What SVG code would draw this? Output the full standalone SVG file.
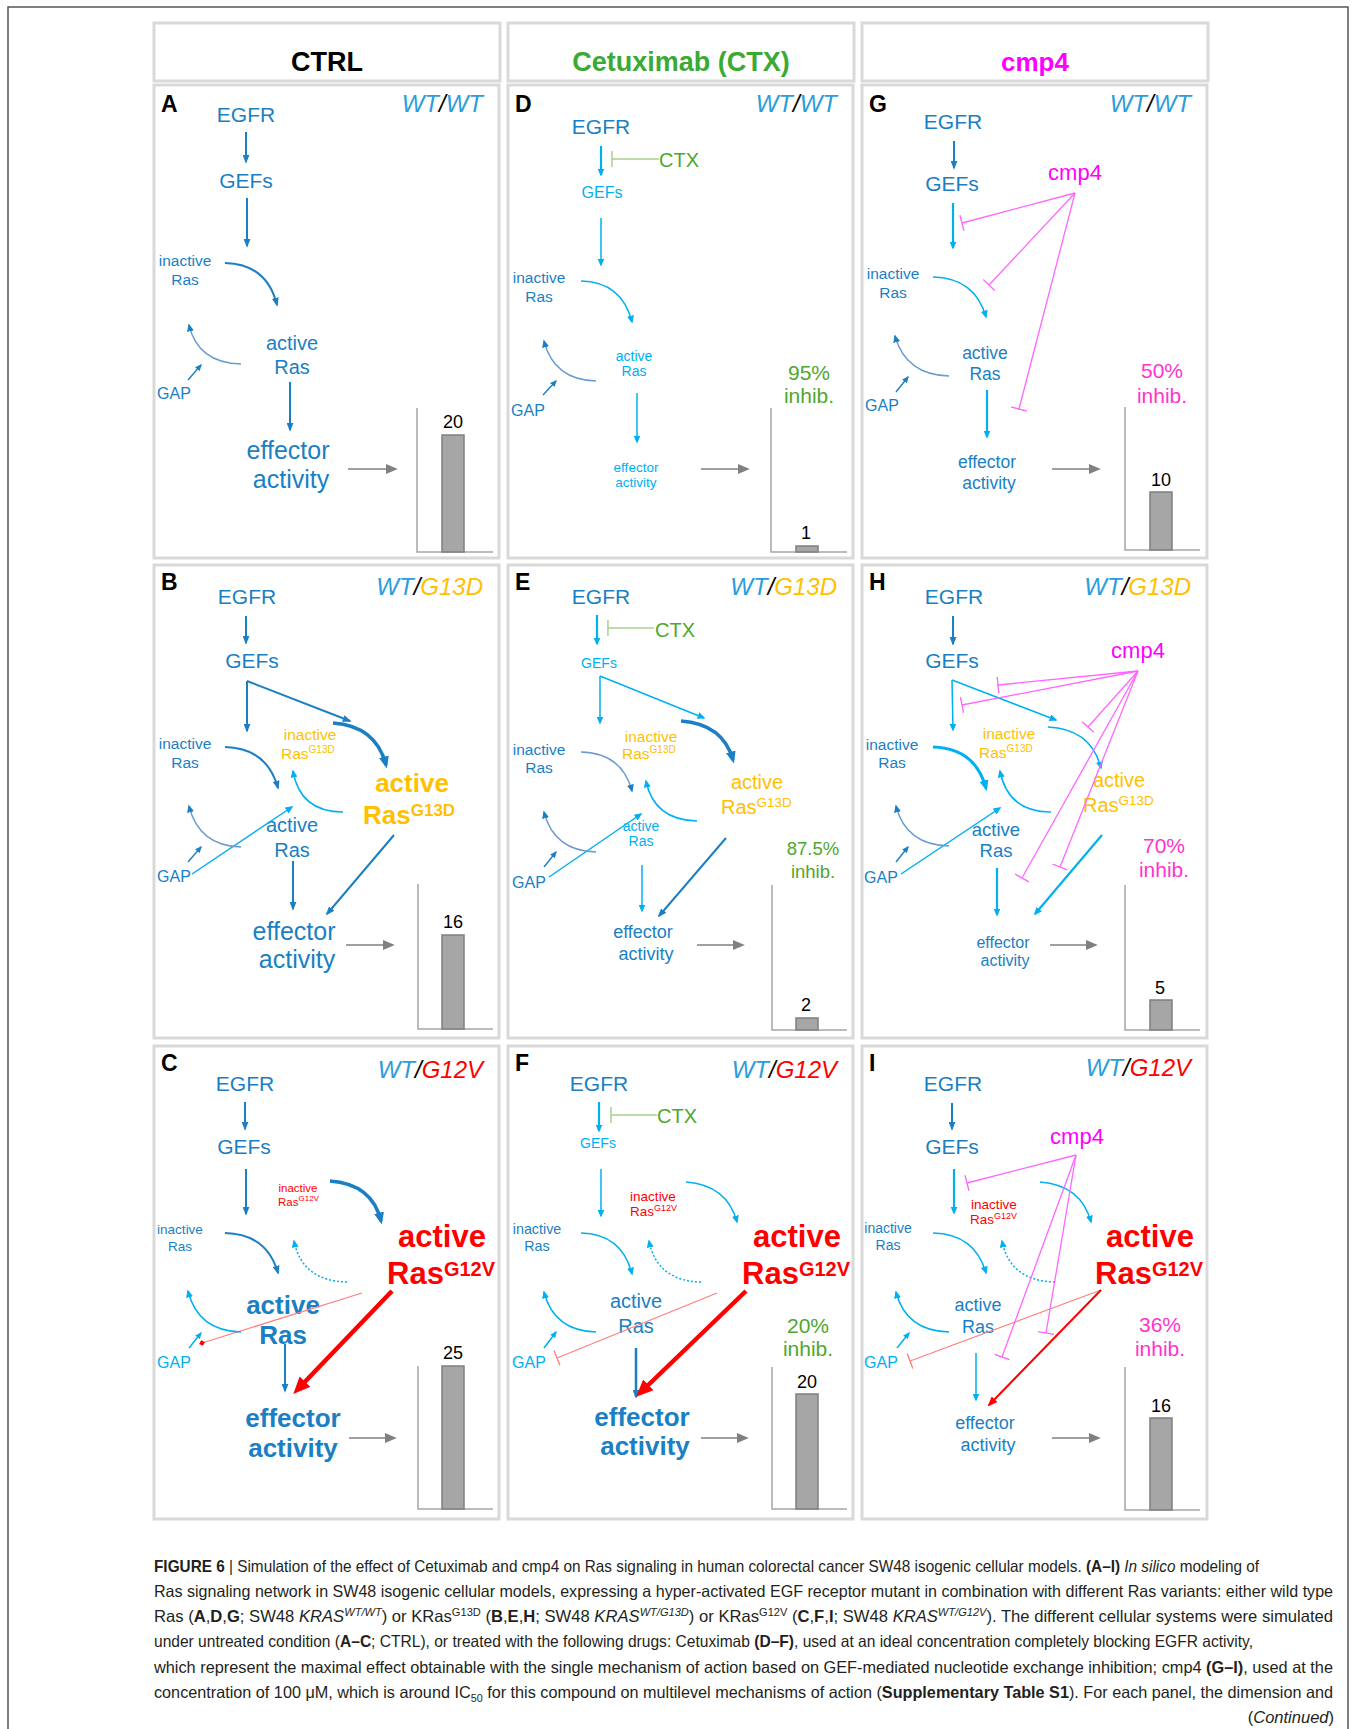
<svg xmlns="http://www.w3.org/2000/svg" width="1356" height="1729" viewBox="0 0 1356 1729">
<style>
text{font-family:"Liberation Sans",Arial,Helvetica,sans-serif}
.m{text-anchor:middle}.e{text-anchor:end}.b{font-weight:bold}.i{font-style:italic}
.db{fill:#1a7fc4}.lb{fill:#00b0f0}.go{fill:#ffc000}.rd{fill:#ff0000}.gn{fill:#4ea72e}.mg{fill:#ff00ff}.pk{fill:#ff33cc}.wt{fill:#2b9ddb}.k{fill:#000}
.pn{fill:#fff;stroke:#d9d9d9;stroke-width:3}
.pl{font-size:23px;font-weight:bold;fill:#000}
.wtl{font-size:24px;font-style:italic;text-anchor:end}
.ax{fill:none;stroke:#a6a6a6;stroke-width:1.5}
.bar{fill:#a6a6a6;stroke:#7f7f7f;stroke-width:1.5}
.num{font-size:18px;fill:#000;text-anchor:middle}
.cdb{fill:none;stroke:#1a7fc4;stroke-width:2;marker-end:url(#adb)}
.cdbT{fill:none;stroke:#1a7fc4;stroke-width:3.5;marker-end:url(#adbL)}
.clb{fill:none;stroke:#00b0f0;stroke-width:1.5;marker-end:url(#alb)}
.clbM{fill:none;stroke:#00b0f0;stroke-width:2.2;marker-end:url(#alb)}
.clbT{fill:none;stroke:#00b0f0;stroke-width:3;marker-end:url(#albL)}
.cds{fill:none;stroke:#00b0f0;stroke-width:1.5;stroke-dasharray:2 2;marker-end:url(#alb)}
.csb{fill:none;stroke:#6a9bd1;stroke-width:1.4;marker-end:url(#asb)}
.cgs{fill:none;stroke:#1a7fc4;stroke-width:1.4;marker-end:url(#asbd)}
.ga{stroke:#808080;stroke-width:1.6;marker-end:url(#agy)}
.cmg{fill:none;stroke:#ff66ff;stroke-width:1.3;marker-end:url(#tmg)}
.cgn{fill:none;stroke:#a9d18e;stroke-width:1.5;marker-end:url(#tgn)}
.cpr{fill:none;stroke:#ff8080;stroke-width:1.3}
.crT{fill:none;stroke:#ff0000;stroke-width:4.5;marker-end:url(#ardL)}
.crM{fill:none;stroke:#ff0000;stroke-width:2;marker-end:url(#ard)}
.cap{font-size:16.5px;fill:#231f20}
</style>
<defs>
<marker id="adb" viewBox="0 0 10 10" refX="8" refY="5" markerWidth="9" markerHeight="7" markerUnits="userSpaceOnUse" orient="auto" preserveAspectRatio="none"><path d="M0,0 L10,5 L0,10 z" fill="#1a7fc4"/></marker>
<marker id="adbL" viewBox="0 0 10 10" refX="7" refY="5" markerWidth="12" markerHeight="10" markerUnits="userSpaceOnUse" orient="auto" preserveAspectRatio="none"><path d="M0,0 L10,5 L0,10 z" fill="#1a7fc4"/></marker>
<marker id="alb" viewBox="0 0 10 10" refX="8" refY="5" markerWidth="8" markerHeight="7" markerUnits="userSpaceOnUse" orient="auto" preserveAspectRatio="none"><path d="M0,0 L10,5 L0,10 z" fill="#00b0f0"/></marker>
<marker id="albL" viewBox="0 0 10 10" refX="7" refY="5" markerWidth="11" markerHeight="9" markerUnits="userSpaceOnUse" orient="auto" preserveAspectRatio="none"><path d="M0,0 L10,5 L0,10 z" fill="#00b0f0"/></marker>
<marker id="asb" viewBox="0 0 10 10" refX="8" refY="5" markerWidth="8" markerHeight="7" markerUnits="userSpaceOnUse" orient="auto" preserveAspectRatio="none"><path d="M0,0 L10,5 L0,10 z" fill="#1a7fc4"/></marker>
<marker id="asbd" viewBox="0 0 10 10" refX="8" refY="5" markerWidth="7" markerHeight="6" markerUnits="userSpaceOnUse" orient="auto" preserveAspectRatio="none"><path d="M0,0 L10,5 L0,10 z" fill="#1a7fc4"/></marker>
<marker id="asl" viewBox="0 0 10 10" refX="8" refY="5" markerWidth="7" markerHeight="6" markerUnits="userSpaceOnUse" orient="auto" preserveAspectRatio="none"><path d="M0,0 L10,5 L0,10 z" fill="#00b0f0"/></marker>
<marker id="agy" viewBox="0 0 10 10" refX="6" refY="5" markerWidth="12" markerHeight="10" markerUnits="userSpaceOnUse" orient="auto" preserveAspectRatio="none"><path d="M0,0 L10,5 L0,10 z" fill="#808080"/></marker>
<marker id="ardL" viewBox="0 0 10 10" refX="6" refY="5" markerWidth="17" markerHeight="15" markerUnits="userSpaceOnUse" orient="auto" preserveAspectRatio="none"><path d="M0,0 L10,5 L0,10 z" fill="#ff0000"/></marker>
<marker id="ard" viewBox="0 0 10 10" refX="8" refY="5" markerWidth="10" markerHeight="8" markerUnits="userSpaceOnUse" orient="auto" preserveAspectRatio="none"><path d="M0,0 L10,5 L0,10 z" fill="#ff0000"/></marker>
<marker id="tmg" viewBox="0 0 2 16" refX="1" refY="8" markerWidth="2" markerHeight="16" markerUnits="userSpaceOnUse" orient="auto"><rect x="0.3" y="0" width="1.4" height="16" fill="#ff66ff"/></marker>
<marker id="tgn" viewBox="0 0 2 16" refX="1" refY="8" markerWidth="2" markerHeight="16" markerUnits="userSpaceOnUse" orient="auto"><rect x="0.3" y="0" width="1.5" height="16" fill="#a9d18e"/></marker>
<marker id="tpr" viewBox="0 0 2 16" refX="1" refY="8" markerWidth="2" markerHeight="16" markerUnits="userSpaceOnUse" orient="auto"><rect x="0.3" y="0" width="1.4" height="16" fill="#ff8080"/></marker>
<marker id="dpr" viewBox="0 0 10 10" refX="5" refY="5" markerWidth="6" markerHeight="6" markerUnits="userSpaceOnUse" orient="auto"><path d="M5,0 L10,5 L5,10 L0,5 z" fill="#ff0000"/></marker>
</defs>
<rect width="1356" height="1729" fill="#fff"/>
<rect x="8" y="7" width="1340" height="1760" fill="none" stroke="#555" stroke-width="1.5"/>

<g id="headers">
<g id="hdr-ctrl"><rect class="pn" x="154" y="23" width="346" height="58"/><text class="m b k" x="327" y="71" font-size="27">CTRL</text></g>
<g id="hdr-ctx"><rect class="pn" x="508" y="23" width="346" height="58"/><text class="m b" x="681" y="71" font-size="27" fill="#3aaa35">Cetuximab (CTX)</text></g>
<g id="hdr-cmp4"><rect class="pn" x="862" y="23" width="346" height="58"/><text class="m b mg" x="1035" y="71" font-size="26">cmp4</text></g>
</g>

<!-- Panel A -->
<g id="panel-A" transform="translate(150,80)">
<rect class="pn" x="4" y="5" width="345" height="473"/>
<text class="pl" x="11" y="32">A</text>
<text class="wtl" x="333" y="32"><tspan class="wt">WT</tspan><tspan class="k">/</tspan><tspan class="wt">WT</tspan></text>
<g id="A-EGFR"><text class="m db" x="96" y="42" font-size="21">EGFR</text></g>
<g id="A-GEFs"><text class="m db" x="96" y="108" font-size="21">GEFs</text></g>
<g id="A-inRas"><text class="m db" x="35" y="186" font-size="15.5">inactive</text><text class="m db" x="35" y="205" font-size="15.5">Ras</text></g>
<g id="A-acRas"><text class="m db" x="142" y="270" font-size="20">active</text><text class="m db" x="142" y="294" font-size="20">Ras</text></g>
<g id="A-GAP"><text class="m db" x="24" y="319" font-size="16">GAP</text></g>
<g id="A-eff"><text class="m db" x="138" y="379" font-size="25">effector</text><text class="m db" x="141" y="408" font-size="25">activity</text></g>
<g id="A-chart"><path class="ax" d="M267,328 V472 H343"/><rect class="bar" x="292" y="355" width="22" height="117"/><text class="num" x="303" y="348">20</text></g>
<g id="A-connectors">
<path class="cdb" d="M96,52 V82"/>
<path class="cdb" d="M97,118 V166"/>
<path class="cdb" d="M75,183 Q117,184 127,225"/>
<path class="csb" d="M91,284 Q48,283 39,245"/>
<path class="cgs" d="M38,300 L51,285"/>
<path class="cdb" d="M140,302 V350"/>
<path class="ga" d="M198,389 H243"/>
</g>
</g>

<!-- Panel D -->
<g id="panel-D" transform="translate(504,80)">
<rect class="pn" x="4" y="5" width="345" height="473"/>
<text class="pl" x="11" y="32">D</text>
<text class="wtl" x="333" y="32"><tspan class="wt">WT</tspan><tspan class="k">/</tspan><tspan class="wt">WT</tspan></text>
<g id="D-EGFR"><text class="m db" x="97" y="54" font-size="21">EGFR</text></g>
<g id="D-CTX"><text class="gn" x="155" y="87" font-size="20">CTX</text></g>
<g id="D-GEFs"><text class="m lb" x="98" y="118" font-size="16">GEFs</text></g>
<g id="D-inRas"><text class="m db" x="35" y="203" font-size="15.5">inactive</text><text class="m db" x="35" y="222" font-size="15.5">Ras</text></g>
<g id="D-acRas"><text class="m lb" x="130" y="281" font-size="14">active</text><text class="m lb" x="130" y="296" font-size="14">Ras</text></g>
<g id="D-GAP"><text class="m db" x="24" y="336" font-size="16">GAP</text></g>
<g id="D-eff"><text class="m lb" x="132" y="392" font-size="13.5">effector</text><text class="m lb" x="132" y="407" font-size="13.5">activity</text></g>
<g id="D-inhib"><text class="m gn" x="305" y="300" font-size="21">95%</text><text class="m gn" x="305" y="323" font-size="21">inhib.</text></g>
<g id="D-chart"><path class="ax" d="M267,328 V472 H343"/><rect class="bar" x="292" y="466" width="22" height="6"/><text class="num" x="302" y="459">1</text></g>
<g id="D-connectors">
<path class="clbM" d="M97,66 V95"/>
<path class="cgn" d="M155,79 H108"/>
<path class="clb" d="M97,138 V185"/>
<path class="clb" d="M77,201 Q118,202 128,242"/>
<path class="csb" d="M92,301 Q50,300 40,261"/>
<path class="cgs" d="M39,315 L52,301"/>
<path class="clb" d="M133,313 V362"/>
<path class="ga" d="M197,389 H241"/>
</g>
</g>

<!-- Panel G -->
<g id="panel-G" transform="translate(858,80)">
<rect class="pn" x="4" y="5" width="345" height="473"/>
<text class="pl" x="11" y="32">G</text>
<text class="wtl" x="333" y="32"><tspan class="wt">WT</tspan><tspan class="k">/</tspan><tspan class="wt">WT</tspan></text>
<g id="G-EGFR"><text class="m db" x="95" y="49" font-size="21">EGFR</text></g>
<g id="G-GEFs"><text class="m db" x="94" y="111" font-size="21">GEFs</text></g>
<g id="G-cmp4"><text class="m mg" x="217" y="100" font-size="22">cmp4</text></g>
<g id="G-inRas"><text class="m db" x="35" y="199" font-size="15.5">inactive</text><text class="m db" x="35" y="218" font-size="15.5">Ras</text></g>
<g id="G-acRas"><text class="m db" x="127" y="279" font-size="17.5">active</text><text class="m db" x="127" y="300" font-size="17.5">Ras</text></g>
<g id="G-GAP"><text class="m db" x="24" y="331" font-size="16">GAP</text></g>
<g id="G-eff"><text class="m db" x="129" y="388" font-size="17.5">effector</text><text class="m db" x="131" y="409" font-size="17.5">activity</text></g>
<g id="G-inhib"><text class="m pk" x="304" y="298" font-size="21">50%</text><text class="m pk" x="304" y="323" font-size="21">inhib.</text></g>
<g id="G-chart"><path class="ax" d="M267,327 V470 H342"/><rect class="bar" x="292" y="412" width="22" height="58"/><text class="num" x="303" y="406">10</text></g>
<g id="G-connectors">
<path class="cdb" d="M96,61 V88"/>
<path class="clbM" d="M95,123 V168"/>
<path class="clb" d="M75,197 Q117,198 128,237"/>
<path class="csb" d="M91,296 Q48,295 37,256"/>
<path class="cgs" d="M38,312 L50,297"/>
<path class="clbM" d="M129,310 V357"/>
<path class="ga" d="M194,389 H238"/>
<path class="cmg" d="M217,113 L104,143"/>
<path class="cmg" d="M217,113 L131,205"/>
<path class="cmg" d="M217,113 L161,329"/>
</g>
</g>

<!-- Panel B -->
<g id="panel-B" transform="translate(150,558)">
<rect class="pn" x="4" y="7" width="345" height="473"/>
<text class="pl" x="11" y="32">B</text>
<text class="wtl" x="333" y="37"><tspan class="wt">WT</tspan><tspan class="k">/</tspan><tspan class="go">G13D</tspan></text>
<g id="B-EGFR"><text class="m db" x="97" y="46" font-size="21">EGFR</text></g>
<g id="B-GEFs"><text class="m db" x="102" y="110" font-size="21">GEFs</text></g>
<g id="B-inRas"><text class="m db" x="35" y="191" font-size="15.5">inactive</text><text class="m db" x="35" y="210" font-size="15.5">Ras</text></g>
<g id="B-inMut"><text class="m go" x="160" y="182" font-size="15.5">inactive</text><text class="go" x="131" y="201" font-size="15.5">Ras<tspan font-size="10" dy="-6">G13D</tspan></text></g>
<g id="B-acMut"><text class="m go b" x="262" y="234" font-size="26">active</text><text class="go b" x="213" y="266" font-size="26">Ras<tspan font-size="17" dy="-8">G13D</tspan></text></g>
<g id="B-acRas"><text class="m db" x="142" y="274" font-size="20">active</text><text class="m db" x="142" y="299" font-size="20">Ras</text></g>
<g id="B-GAP"><text class="m db" x="24" y="324" font-size="16">GAP</text></g>
<g id="B-eff"><text class="m db" x="144" y="382" font-size="25">effector</text><text class="m db" x="147" y="410" font-size="25">activity</text></g>
<g id="B-chart"><path class="ax" d="M268,326 V471 H343"/><rect class="bar" x="292" y="377" width="22" height="94"/><text class="num" x="303" y="370">16</text></g>
<g id="B-connectors">
<path class="cdb" d="M96,58 V85"/>
<path class="cdb" d="M97,123 V173"/>
<path class="cdb" d="M97,123 L200,163"/>
<path class="cdb" d="M75,189 Q117,190 128,230"/>
<path class="cdbT" d="M183,165 Q226,168 236,207"/>
<path class="clb" d="M193,254 Q150,254 143,213"/>
<path class="clb" d="M42,316 L142,249"/>
<path class="csb" d="M91,289 Q49,288 39,248"/>
<path class="cgs" d="M38,304 L51,289"/>
<path class="cdb" d="M143,303 V351"/>
<path class="cdb" d="M244,277 L177,356"/>
<path class="ga" d="M196,387 H240"/>
</g>
</g>

<!-- Panel E -->
<g id="panel-E" transform="translate(504,558)">
<rect class="pn" x="4" y="7" width="345" height="473"/>
<text class="pl" x="11" y="32">E</text>
<text class="wtl" x="333" y="37"><tspan class="wt">WT</tspan><tspan class="k">/</tspan><tspan class="go">G13D</tspan></text>
<g id="E-EGFR"><text class="m db" x="97" y="46" font-size="21">EGFR</text></g>
<g id="E-CTX"><text class="gn" x="151" y="79" font-size="20">CTX</text></g>
<g id="E-GEFs"><text class="m lb" x="95" y="110" font-size="14">GEFs</text></g>
<g id="E-inMut"><text class="m go" x="147" y="184" font-size="15.5">inactive</text><text class="go" x="118" y="201" font-size="15.5">Ras<tspan font-size="10" dy="-6">G13D</tspan></text></g>
<g id="E-acMut"><text class="m go" x="253" y="231" font-size="20">active</text><text class="go" x="217" y="256" font-size="20">Ras<tspan font-size="13.5" dy="-7">G13D</tspan></text></g>
<g id="E-inRas"><text class="m db" x="35" y="197" font-size="15.5">inactive</text><text class="m db" x="35" y="215" font-size="15.5">Ras</text></g>
<g id="E-acRas"><text class="m lb" x="137" y="273" font-size="14">active</text><text class="m lb" x="137" y="288" font-size="14">Ras</text></g>
<g id="E-GAP"><text class="m db" x="25" y="330" font-size="16">GAP</text></g>
<g id="E-eff"><text class="m db" x="139" y="380" font-size="18">effector</text><text class="m db" x="142" y="402" font-size="18">activity</text></g>
<g id="E-inhib"><text class="m gn" x="309" y="297" font-size="18.5">87.5%</text><text class="m gn" x="309" y="320" font-size="18.5">inhib.</text></g>
<g id="E-chart"><path class="ax" d="M268,327 V472 H343"/><rect class="bar" x="292" y="460" width="22" height="12"/><text class="num" x="302" y="453">2</text></g>
<g id="E-connectors">
<path class="clbM" d="M93,57 V86"/>
<path class="cgn" d="M150,70 H104"/>
<path class="clb" d="M96,118 V165"/>
<path class="clb" d="M96,118 L200,160"/>
<path class="cdbT" d="M177,163 Q219,166 229,202"/>
<path class="csb" d="M77,194 Q118,195 128,233"/>
<path class="clb" d="M193,263 Q150,262 142,223"/>
<path class="clb" d="M45,319 L137,256"/>
<path class="csb" d="M92,294 Q50,293 40,254"/>
<path class="cgs" d="M40,309 L52,294"/>
<path class="clb" d="M138,307 V353"/>
<path class="cdb" d="M222,280 L155,358"/>
<path class="ga" d="M193,387 H236"/>
</g>
</g>

<!-- Panel H -->
<g id="panel-H" transform="translate(858,558)">
<rect class="pn" x="4" y="7" width="345" height="473"/>
<text class="pl" x="11" y="32">H</text>
<text class="wtl" x="333" y="37"><tspan class="wt">WT</tspan><tspan class="k">/</tspan><tspan class="go">G13D</tspan></text>
<g id="H-EGFR"><text class="m db" x="96" y="46" font-size="21">EGFR</text></g>
<g id="H-GEFs"><text class="m db" x="94" y="110" font-size="21">GEFs</text></g>
<g id="H-cmp4"><text class="m mg" x="280" y="100" font-size="22">cmp4</text></g>
<g id="H-inRas"><text class="m db" x="34" y="192" font-size="15.5">inactive</text><text class="m db" x="34" y="210" font-size="15.5">Ras</text></g>
<g id="H-inMut"><text class="m go" x="151" y="181" font-size="15.5">inactive</text><text class="go" x="121" y="200" font-size="15.5">Ras<tspan font-size="10" dy="-6">G13D</tspan></text></g>
<g id="H-acMut"><text class="m go" x="261" y="229" font-size="20">active</text><text class="go" x="225" y="254" font-size="20">Ras<tspan font-size="13.5" dy="-7">G13D</tspan></text></g>
<g id="H-acRas"><text class="m db" x="138" y="278" font-size="18.5">active</text><text class="m db" x="138" y="299" font-size="18.5">Ras</text></g>
<g id="H-GAP"><text class="m db" x="23" y="325" font-size="16">GAP</text></g>
<g id="H-eff"><text class="m db" x="145" y="390" font-size="16">effector</text><text class="m db" x="147" y="408" font-size="16">activity</text></g>
<g id="H-inhib"><text class="m pk" x="306" y="295" font-size="21">70%</text><text class="m pk" x="306" y="319" font-size="21">inhib.</text></g>
<g id="H-chart"><path class="ax" d="M267,327 V472 H342"/><rect class="bar" x="292" y="442" width="22" height="30"/><text class="num" x="302" y="436">5</text></g>
<g id="H-connectors">
<path class="cdb" d="M95,58 V86"/>
<path class="clb" d="M94,122 L95,172"/>
<path class="clb" d="M94,122 L198,162"/>
<path class="clbT" d="M75,189 Q117,190 128,230"/>
<path class="clb" d="M190,169 Q233,171 243,210"/>
<path class="clb" d="M193,254 Q150,254 142,213"/>
<path class="clb" d="M43,316 L142,250"/>
<path class="csb" d="M91,288 Q48,287 38,248"/>
<path class="cgs" d="M38,304 L50,289"/>
<path class="clbM" d="M139,310 V357"/>
<path class="clbM" d="M244,277 L177,356"/>
<path class="ga" d="M192,387 H235"/>
<path class="cmg" d="M280,113 L140,127"/>
<path class="cmg" d="M280,113 L104,147"/>
<path class="cmg" d="M280,113 L230,169"/>
<path class="cmg" d="M280,113 L164,320"/>
<path class="cmg" d="M280,113 L202,309"/>
</g>
</g>

<!-- Panel C -->
<g id="panel-C" transform="translate(150,1036)">
<rect class="pn" x="4" y="10" width="345" height="473"/>
<text class="pl" x="11" y="35">C</text>
<text class="wtl" x="333" y="42"><tspan class="wt">WT</tspan><tspan class="k">/</tspan><tspan class="rd">G12V</tspan></text>
<g id="C-EGFR"><text class="m db" x="95" y="55" font-size="21">EGFR</text></g>
<g id="C-GEFs"><text class="m db" x="94" y="118" font-size="21">GEFs</text></g>
<g id="C-inMut"><text class="m rd" x="148" y="156" font-size="11.5">inactive</text><text class="rd" x="128" y="170" font-size="11.5">Ras<tspan font-size="8" dy="-5">G12V</tspan></text></g>
<g id="C-acMut"><text class="m rd b" x="292" y="211" font-size="31">active</text><text class="rd b" x="237" y="248" font-size="31">Ras<tspan font-size="20" dy="-8">G12V</tspan></text></g>
<g id="C-inRas"><text class="m db" x="30" y="198" font-size="13.5">inactive</text><text class="m db" x="30" y="215" font-size="13.5">Ras</text></g>
<g id="C-acRas"><text class="m db b" x="133" y="278" font-size="26">active</text><text class="m db b" x="133" y="308" font-size="26">Ras</text></g>
<g id="C-GAP"><text class="m lb" x="24" y="332" font-size="16">GAP</text></g>
<g id="C-eff"><text class="m db b" x="143" y="391" font-size="26">effector</text><text class="m db b" x="143" y="421" font-size="26">activity</text></g>
<g id="C-chart"><path class="ax" d="M268,330 V473 H343"/><rect class="bar" x="292" y="330" width="22" height="143"/><text class="num" x="303" y="323">25</text></g>
<g id="C-connectors">
<path class="cdb" d="M95,66 V93"/>
<path class="cdb" d="M96,133 V178"/>
<path class="cdbT" d="M180,145 Q222,148 231,185"/>
<path class="cdb" d="M75,197 Q117,198 128,237"/>
<path class="cds" d="M197,246 Q152,245 144,205"/>
<path class="cpr" d="M212,257 L52,307" marker-end="url(#dpr)"/>
<path class="clb" d="M91,296 Q48,295 38,255"/>
<path class="clb" d="M39,312 L51,297" style="marker-end:url(#asl)"/>
<path class="cdb" d="M135,308 V355"/>
<path class="crT" d="M242,255 L148,353"/>
<path class="ga" d="M199,402 H242"/>
</g>
</g>

<!-- Panel F -->
<g id="panel-F" transform="translate(504,1036)">
<rect class="pn" x="4" y="10" width="345" height="473"/>
<text class="pl" x="11" y="35">F</text>
<text class="wtl" x="333" y="42"><tspan class="wt">WT</tspan><tspan class="k">/</tspan><tspan class="rd">G12V</tspan></text>
<g id="F-EGFR"><text class="m db" x="95" y="55" font-size="21">EGFR</text></g>
<g id="F-CTX"><text class="gn" x="153" y="87" font-size="20">CTX</text></g>
<g id="F-GEFs"><text class="m lb" x="94" y="112" font-size="14">GEFs</text></g>
<g id="F-inMut"><text class="m rd" x="149" y="165" font-size="13.5">inactive</text><text class="rd" x="126" y="180" font-size="13.5">Ras<tspan font-size="9" dy="-5">G12V</tspan></text></g>
<g id="F-acMut"><text class="m rd b" x="293" y="211" font-size="31">active</text><text class="rd b" x="238" y="248" font-size="31">Ras<tspan font-size="20" dy="-8">G12V</tspan></text></g>
<g id="F-inRas"><text class="m db" x="33" y="198" font-size="14.3">inactive</text><text class="m db" x="33" y="215" font-size="14.3">Ras</text></g>
<g id="F-acRas"><text class="m db" x="132" y="272" font-size="20">active</text><text class="m db" x="132" y="297" font-size="20">Ras</text></g>
<g id="F-GAP"><text class="m lb" x="25" y="332" font-size="16">GAP</text></g>
<g id="F-eff"><text class="m db b" x="138" y="390" font-size="26">effector</text><text class="m db b" x="141" y="419" font-size="26">activity</text></g>
<g id="F-inhib"><text class="m gn" x="304" y="297" font-size="21">20%</text><text class="m gn" x="304" y="320" font-size="21">inhib.</text></g>
<g id="F-chart"><path class="ax" d="M268,331 V473 H343"/><rect class="bar" x="292" y="358" width="22" height="115"/><text class="num" x="303" y="352">20</text></g>
<g id="F-connectors">
<path class="clbM" d="M95,66 V95"/>
<path class="cgn" d="M153,79 H107"/>
<path class="clb" d="M97,133 V180"/>
<path class="clb" d="M182,146 Q223,149 233,186"/>
<path class="clb" d="M77,197 Q118,198 128,238"/>
<path class="cds" d="M197,246 Q153,245 145,205"/>
<path class="cpr" d="M213,257 L53,322" style="marker-end:url(#tpr)"/>
<path class="clb" d="M92,296 Q50,295 40,256"/>
<path class="clb" d="M40,312 L52,296" style="marker-end:url(#asl)"/>
<path class="cdb" d="M132,312 V361" style="stroke-width:2.5"/>
<path class="crT" d="M242,255 L137,356"/>
<path class="ga" d="M197,402 H240"/>
</g>
</g>

<!-- Panel I -->
<g id="panel-I" transform="translate(858,1036)">
<rect class="pn" x="4" y="10" width="345" height="473"/>
<text class="pl" x="11" y="35">I</text>
<text class="wtl" x="333" y="40"><tspan class="wt">WT</tspan><tspan class="k">/</tspan><tspan class="rd">G12V</tspan></text>
<g id="I-EGFR"><text class="m db" x="95" y="55" font-size="21">EGFR</text></g>
<g id="I-GEFs"><text class="m db" x="94" y="118" font-size="21">GEFs</text></g>
<g id="I-cmp4"><text class="m mg" x="219" y="108" font-size="22">cmp4</text></g>
<g id="I-inMut"><text class="m rd" x="136" y="173" font-size="13.5">inactive</text><text class="rd" x="112" y="188" font-size="13.5">Ras<tspan font-size="9" dy="-5">G12V</tspan></text></g>
<g id="I-acMut"><text class="m rd b" x="292" y="211" font-size="31">active</text><text class="rd b" x="237" y="248" font-size="31">Ras<tspan font-size="20" dy="-8">G12V</tspan></text></g>
<g id="I-inRas"><text class="m db" x="30" y="197" font-size="14">inactive</text><text class="m db" x="30" y="214" font-size="14">Ras</text></g>
<g id="I-acRas"><text class="m db" x="120" y="275" font-size="18">active</text><text class="m db" x="120" y="297" font-size="18">Ras</text></g>
<g id="I-GAP"><text class="m lb" x="23" y="332" font-size="16">GAP</text></g>
<g id="I-eff"><text class="m db" x="127" y="393" font-size="18">effector</text><text class="m db" x="130" y="415" font-size="18">activity</text></g>
<g id="I-inhib"><text class="m pk" x="302" y="296" font-size="21">36%</text><text class="m pk" x="302" y="320" font-size="21">inhib.</text></g>
<g id="I-chart"><path class="ax" d="M267,331 V474 H342"/><rect class="bar" x="292" y="382" width="22" height="92"/><text class="num" x="303" y="376">16</text></g>
<g id="I-connectors">
<path class="cdb" d="M94,67 V93"/>
<path class="clbM" d="M96,133 V177"/>
<path class="clb" d="M182,146 Q223,149 233,186"/>
<path class="clb" d="M75,197 Q117,198 128,237"/>
<path class="cds" d="M197,246 Q152,245 144,205"/>
<path class="cpr" d="M243,254 L52,325" style="marker-end:url(#tpr)"/>
<path class="crM" d="M243,254 L131,369"/>
<path class="clb" d="M91,296 Q48,295 38,256"/>
<path class="clb" d="M39,312 L51,297" style="marker-end:url(#asl)"/>
<path class="clb" d="M118,317 V364"/>
<path class="ga" d="M194,402 H238"/>
<path class="cmg" d="M218,119 L109,147"/>
<path class="cmg" d="M218,119 L144,321"/>
<path class="cmg" d="M218,119 L188,297"/>
</g>
</g>

<g id="caption">
<text class="cap" x="154" y="1572" textLength="1105" lengthAdjust="spacingAndGlyphs"><tspan class="b">FIGURE 6</tspan> | Simulation of the effect of Cetuximab and cmp4 on Ras signaling in human colorectal cancer SW48 isogenic cellular models. <tspan class="b">(A–I)</tspan> <tspan class="i">In silico</tspan> modeling of</text>
<text class="cap" x="154" y="1597" textLength="1179" lengthAdjust="spacingAndGlyphs">Ras signaling network in SW48 isogenic cellular models, expressing a hyper-activated EGF receptor mutant in combination with different Ras variants: either wild type</text>
<text class="cap" x="154" y="1622" textLength="1179" lengthAdjust="spacingAndGlyphs">Ras (<tspan class="b">A</tspan>,<tspan class="b">D</tspan>,<tspan class="b">G</tspan>; SW48 <tspan class="i">KRAS</tspan><tspan class="i" font-size="11" dy="-6">WT/WT</tspan><tspan dy="6">) or KRas</tspan><tspan font-size="11" dy="-6">G13D</tspan><tspan dy="6"> (</tspan><tspan class="b">B</tspan>,<tspan class="b">E</tspan>,<tspan class="b">H</tspan>; SW48 <tspan class="i">KRAS</tspan><tspan class="i" font-size="11" dy="-6">WT/G13D</tspan><tspan dy="6">) or KRas</tspan><tspan font-size="11" dy="-6">G12V</tspan><tspan dy="6"> (</tspan><tspan class="b">C</tspan>,<tspan class="b">F</tspan>,<tspan class="b">I</tspan>; SW48 <tspan class="i">KRAS</tspan><tspan class="i" font-size="11" dy="-6">WT/G12V</tspan><tspan dy="6">). The different cellular systems were simulated</tspan></text>
<text class="cap" x="154" y="1647" textLength="1099" lengthAdjust="spacingAndGlyphs">under untreated condition (<tspan class="b">A–C</tspan>; CTRL), or treated with the following drugs: Cetuximab <tspan class="b">(D–F)</tspan>, used at an ideal concentration completely blocking EGFR activity,</text>
<text class="cap" x="154" y="1673" textLength="1179" lengthAdjust="spacingAndGlyphs">which represent the maximal effect obtainable with the single mechanism of action based on GEF-mediated nucleotide exchange inhibition; cmp4 <tspan class="b">(G–I)</tspan>, used at the</text>
<text class="cap" x="154" y="1698" textLength="1179" lengthAdjust="spacingAndGlyphs">concentration of 100 μM, which is around IC<tspan font-size="11" dy="4">50</tspan><tspan dy="-4"> for this compound on multilevel mechanisms of action (</tspan><tspan class="b">Supplementary Table S1</tspan>). For each panel, the dimension and</text>
<text class="cap e" x="1334" y="1723">(<tspan class="i">Continued</tspan>)</text>
</g>
</svg>
